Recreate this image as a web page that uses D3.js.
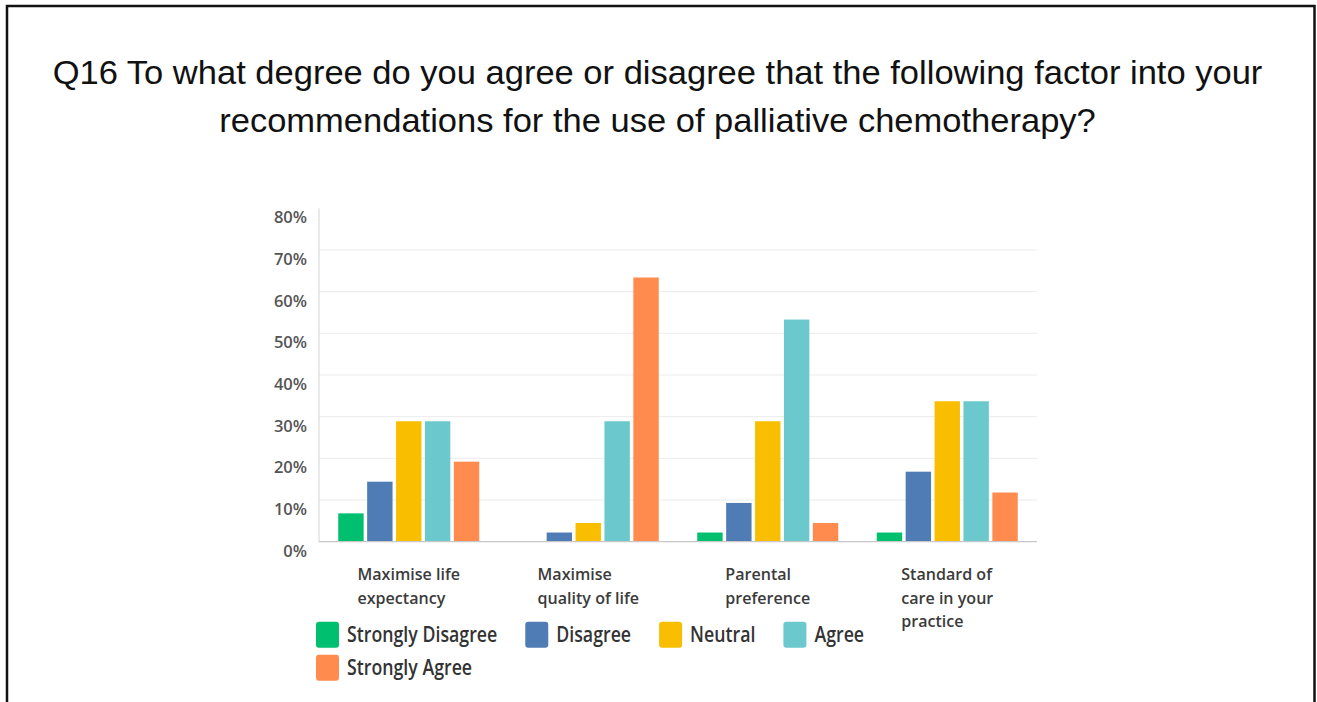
<!DOCTYPE html>
<html>
<head>
<meta charset="utf-8">
<script src="https://cdn.jsdelivr.net/npm/d3@7"></script>
<style>
  body { margin: 0; background: #fff; }
  svg { display: block; }
</style>
</head>
<body>
<svg id="chart" width="1317" height="702"></svg>
<script>
// ---- data ----
const titleLines = [
  "Q16 To what degree do you agree or disagree that the following factor into your",
  "recommendations for the use of palliative chemotherapy?"
];
const categories = [
  ["Maximise life", "expectancy"],
  ["Maximise", "quality of life"],
  ["Parental", "preference"],
  ["Standard of", "care in your", "practice"]
];
const seriesNames = ["Strongly Disagree", "Disagree", "Neutral", "Agree", "Strongly Agree"];
const seriesColors = ["#00bf6f", "#507cb6", "#f9be00", "#6bc8cd", "#ff8b4f"];
const stronglyDisagree = [6.8, 0, 2.2, 2.2];
const disagree = [14.4, 2.2, 9.3, 16.8];
const neutral = [28.9, 4.5, 28.9, 33.7];
const agree = [28.9, 28.9, 53.3, 33.7];
const stronglyAgree = [19.2, 63.4, 4.5, 11.8];
const yTicks = [0, 10, 20, 30, 40, 50, 60, 70, 80];
const yTickLabels = ["0%", "10%", "20%", "30%", "40%", "50%", "60%", "70%", "80%"];

const seriesValues = [stronglyDisagree, disagree, neutral, agree, stronglyAgree];

// ---- layout ----
const W = 1317, H = 702;
const plot = { left: 319, right: 1037, top: 208.3, bottom: 541.7 };

const svg = d3.select("#chart");

// rescale a text element horizontally to a fraction of its natural width
function condense(sel, factor) {
  sel.each(function () {
    const w = this.getComputedTextLength();
    d3.select(this).attr("textLength", w * factor).attr("lengthAdjust", "spacingAndGlyphs");
  });
  return sel;
}

// frame
svg.append("path")
  .attr("d", `M7,${H + 5} V6 H1314.5 V${H + 5}`)
  .attr("fill", "none")
  .attr("stroke", "#111")
  .attr("stroke-width", 2.5);

// title
const title = svg.append("g")
  .attr("font-family", "'Liberation Sans', Arial, sans-serif")
  .attr("font-size", 33.5)
  .attr("fill", "#111")
  .attr("text-anchor", "middle");
title.selectAll("text")
  .data(titleLines)
  .join("text")
  .attr("x", 657.5)
  .attr("y", (d, i) => 83.5 + i * 48.5)
  .text(d => d)
  .call(condense, 1.03);

// scales
const x0 = d3.scaleBand()
  .domain(d3.range(categories.length))
  .range([plot.left, plot.right])
  .paddingInner(0.2145)
  .paddingOuter(0.10725);

const x1 = d3.scaleBand()
  .domain(d3.range(seriesNames.length))
  .range([0, x0.bandwidth()])
  .paddingInner(0.121);

const y = d3.scaleLinear()
  .domain([0, 80])
  .range([plot.bottom, plot.top]);

// grid lines
svg.append("g")
  .selectAll("line")
  .data(yTicks.filter(t => t > 0 && t < 80))
  .join("line")
  .attr("x1", plot.left)
  .attr("x2", plot.right)
  .attr("y1", d => y(d))
  .attr("y2", d => y(d))
  .attr("stroke", "#ebebeb")
  .attr("stroke-width", 1);

// y axis line
svg.append("line")
  .attr("x1", plot.left).attr("x2", plot.left)
  .attr("y1", y(80)).attr("y2", y(0))
  .attr("stroke", "#d4d4d4").attr("stroke-width", 1);

// y tick labels
const yAxis = d3.axisLeft(y)
  .tickValues(yTicks)
  .tickFormat((d, i) => yTickLabels[i])
  .tickSize(0)
  .tickPadding(12);
const yAxisG = svg.append("g")
  .attr("transform", `translate(${plot.left},0)`)
  .call(yAxis);
yAxisG.select(".domain").remove();
yAxisG.selectAll("text")
  .attr("font-family", "'Open Sans', sans-serif")
  .attr("font-weight", 600)
  .attr("font-size", 16.5)
  .attr("fill", "#555")
  .attr("dy", 14.5)
  .attr("y", 0)
  .call(condense, 1.0);

// bars
const groups = svg.append("g")
  .selectAll("g")
  .data(categories.map((c, i) => i))
  .join("g")
  .attr("transform", i => `translate(${x0(i)},0)`);

groups.selectAll("rect")
  .data(i => seriesValues.map((vals, s) => ({ s, v: vals[i] })))
  .join("rect")
  .attr("x", d => x1(d.s))
  .attr("width", x1.bandwidth())
  .attr("y", d => y(d.v))
  .attr("height", d => y(0) - y(d.v))
  .attr("fill", d => seriesColors[d.s]);

// baseline
svg.append("line")
  .attr("x1", plot.left).attr("x2", plot.right)
  .attr("y1", y(0)).attr("y2", y(0))
  .attr("stroke", "#c8c8c8").attr("stroke-width", 1.2);

// category labels: left-aligned lines, block centred under each group
groups.each(function (i) {
  const g = d3.select(this).append("g")
    .attr("font-family", "'Open Sans', sans-serif")
    .attr("font-weight", 600)
    .attr("font-size", 16.4)
    .attr("fill", "#3b3b3b");
  const texts = g.selectAll("text")
    .data(categories[i])
    .join("text")
    .attr("y", (d, k) => 580 + k * 23.5)
    .text(d => d)
    .call(condense, 0.98);
  let maxW = 0;
  texts.each(function () { maxW = Math.max(maxW, +d3.select(this).attr("textLength")); });
  g.attr("transform", `translate(${x0.bandwidth() / 2 - maxW / 2},0)`);
});

// legend: flow layout, wraps onto a second row
const legend = svg.append("g")
  .attr("font-family", "'Open Sans', sans-serif")
  .attr("font-weight", 600)
  .attr("font-size", 21)
  .attr("fill", "#333");
const legendLeft = 316, legendMaxRight = 900, rowGap = 33, swW = 23, swH = 26, itemGap = 28;
let lx = legendLeft, row = 0;
seriesNames.forEach((name, s) => {
  const item = legend.append("g");
  const t = item.append("text").attr("x", swW + 8).attr("y", 0).text(name).call(condense, 0.845);
  const tw = +t.attr("textLength");
  const iw = swW + 8 + tw;
  if (lx + iw > legendMaxRight && lx > legendLeft) { lx = legendLeft; row += 1; }
  item.append("rect")
    .attr("x", 0).attr("y", -20.5)
    .attr("width", swW).attr("height", swH)
    .attr("rx", 3)
    .attr("fill", seriesColors[s]);
  item.attr("transform", `translate(${lx},${642.3 + row * rowGap})`);
  lx += iw + itemGap;
});
</script>
</body>
</html>
